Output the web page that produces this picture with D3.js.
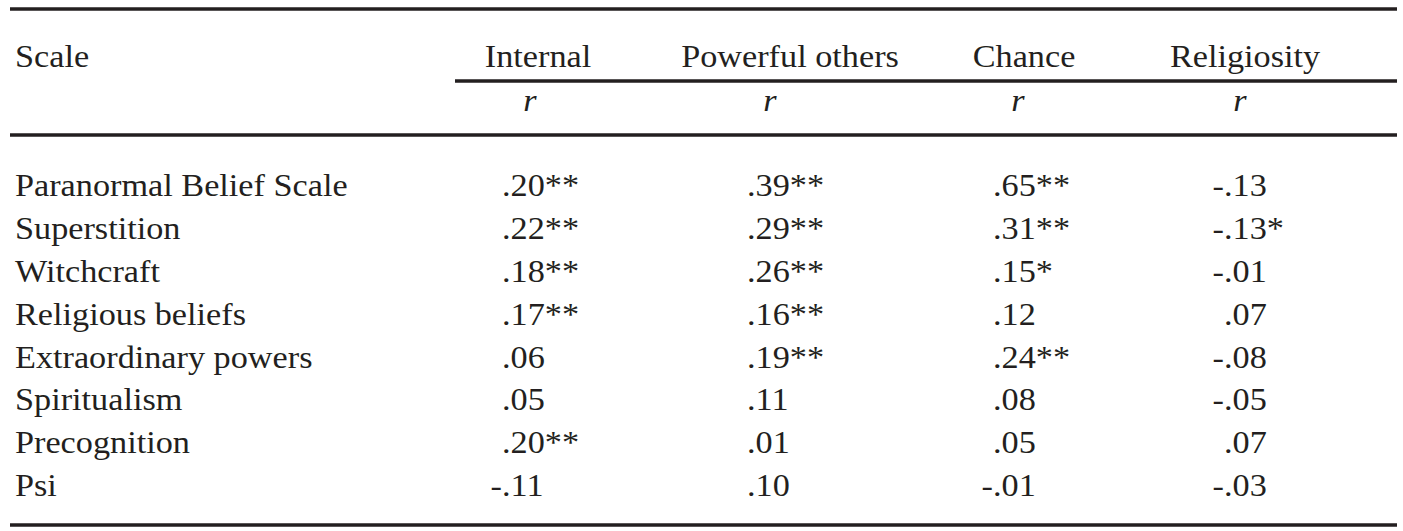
<!DOCTYPE html>
<html><head><meta charset="utf-8">
<script src="https://cdn.jsdelivr.net/npm/d3@7"></script>
<style>body{margin:0;background:#fff}</style></head>
<body><svg id="c" width="1403" height="531"></svg>
<script>
const columns = ["Internal","Powerful others","Chance","Religiosity"];
const scales = ["Paranormal Belief Scale","Superstition","Witchcraft","Religious beliefs","Extraordinary powers","Spiritualism","Precognition","Psi"];
const internal = [".20**",".22**",".18**",".17**",".06",".05",".20**","-.11"];
const powerful = [".39**",".29**",".26**",".16**",".19**",".11",".01",".10"];
const chance = [".65**",".31**",".15*",".12",".24**",".08",".05","-.01"];
const religiosity = ["-.13","-.13*","-.01",".07","-.08","-.05",".07","-.03"];
const series = [internal, powerful, chance, religiosity];

const svg = d3.select("#c");
const font = "'Liberation Serif', 'Times New Roman', serif";
const ink = "#231f20";
const colCenter = d3.scaleOrdinal().domain(columns).range([538, 790, 1024, 1245]);
const rCenter = d3.scaleOrdinal().domain(columns).range([530, 770, 1018, 1240]);
const decimalX = d3.scaleOrdinal().domain(columns).range([502, 747, 993, 1224]);
const y = d3.scalePoint().domain(scales).range([185, 485]);
const SX = 1.07;

function hline(x1,x2,yy,w){svg.append("line").attr("x1",x1).attr("x2",x2).attr("y1",yy).attr("y2",yy).attr("stroke",ink).attr("stroke-width",w);}
hline(10,1397,9,3.5);
hline(455,1397,81,3.5);
hline(10,1397,135,3.5);
hline(10,1397,525,3.5);

const t = (x,yy,s,anchor="start",style="normal") => svg.append("text")
  .attr("transform",`translate(${x},${yy}) scale(${SX},1)`)
  .attr("font-family",font).attr("font-size",32).attr("fill",ink).attr("text-anchor",anchor)
  .attr("font-style",style).attr("dominant-baseline","central").text(s);

t(15,56,"Scale");
columns.forEach(c=>{ t(colCenter(c),56,c,"middle"); t(rCenter(c),100,"r","middle","italic"); });
scales.forEach((s,i)=>{
  t(15,y(s),s);
  columns.forEach((c,j)=>{
    const v = series[j][i];
    if (v.startsWith("-")) { t(decimalX(c),y(s),"-","end"); t(decimalX(c),y(s),v.slice(1)); }
    else t(decimalX(c),y(s),v);
  });
});
</script></body></html>
